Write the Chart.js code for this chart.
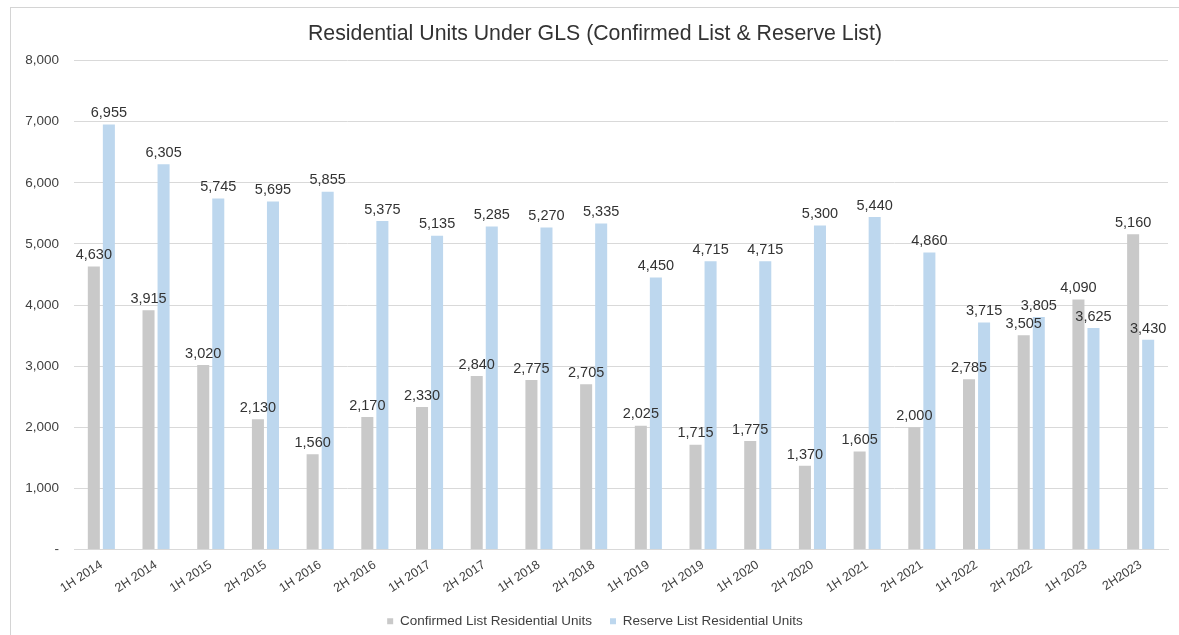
<!DOCTYPE html>
<html>
<head>
<meta charset="utf-8">
<script src="https://cdn.jsdelivr.net/npm/chart.js@4.4.0/dist/chart.umd.min.js"></script>
<style>
  html, body { margin: 0; padding: 0; background: #fff; }
  body { width: 1179px; height: 635px; position: relative; overflow: hidden; }
  #frame {
    position: absolute; left: 10px; top: 7px; width: 1200px; height: 700px;
    border: 1px solid #d4d4d4; box-sizing: border-box;
  }
  #wrap { position: absolute; left: 0; top: 0; width: 1179px; height: 635px; }
</style>
</head>
<body>
<div id="frame"></div>
<div id="wrap"><canvas id="glsChart"></canvas></div>
<script>
  // Half-year periods
  const periods = [
    "1H 2014", "2H 2014", "1H 2015", "2H 2015", "1H 2016", "2H 2016",
    "1H 2017", "2H 2017", "1H 2018", "2H 2018", "1H 2019", "2H 2019",
    "1H 2020", "2H 2020", "1H 2021", "2H 2021", "1H 2022", "2H 2022",
    "1H 2023", "2H2023"
  ];

  // Confirmed List residential units
  const confirmedUnits = [
    4630, 3915, 3020, 2130, 1560, 2170, 2330, 2840, 2775, 2705,
    2025, 1715, 1775, 1370, 1605, 2000, 2785, 3505, 4090, 5160
  ];

  // Reserve List residential units
  const reserveUnits = [
    6955, 6305, 5745, 5695, 5855, 5375, 5135, 5285, 5270, 5335,
    4450, 4715, 4715, 5300, 5440, 4860, 3715, 3805, 3625, 3430
  ];

  const yTicks = [0, 1000, 2000, 3000, 4000, 5000, 6000, 7000, 8000];

  const FONT = "'Liberation Sans', Arial, sans-serif";

  function fmt(v) {
    return v === 0 ? "-" : v.toLocaleString("en-US");
  }

  // value labels above each bar
  const barLabels = {
    id: "barLabels",
    afterDatasetsDraw(chart) {
      const ctx = chart.ctx;
      ctx.save();
      ctx.font = "14.5px " + FONT;
      ctx.fillStyle = "#333333";
      ctx.textAlign = "center";
      ctx.textBaseline = "bottom";
      chart.data.datasets.forEach(function (ds, i) {
        chart.getDatasetMeta(i).data.forEach(function (bar, j) {
          ctx.fillText(fmt(ds.data[j]), bar.x, bar.y - 4);
        });
      });
      ctx.restore();
    }
  };

  const ctx = document.getElementById("glsChart").getContext("2d");

  new Chart(ctx, {
    type: "bar",
    data: {
      labels: periods,
      datasets: [
        {
          label: "Confirmed List Residential Units",
          data: confirmedUnits,
          backgroundColor: "#c9c9c9",
          categoryPercentage: 0.55,
          barPercentage: 0.8
        },
        {
          label: "Reserve List Residential Units",
          data: reserveUnits,
          backgroundColor: "#bdd7ee",
          categoryPercentage: 0.55,
          barPercentage: 0.8
        }
      ]
    },
    options: {
      responsive: true,
      maintainAspectRatio: false,
      animation: false,
      layout: { padding: { left: 22, right: 11, top: 10, bottom: -3 } },
      plugins: {
        title: {
          display: true,
          text: "Residential Units Under GLS (Confirmed List & Reserve List)",
          color: "#333333",
          font: { family: FONT, size: 21.3, weight: "normal" },
          padding: { top: 11, bottom: 14 }
        },
        legend: {
          position: "bottom",
          labels: {
            color: "#404040",
            font: { family: FONT, size: 13.5 },
            boxWidth: 6,
            boxHeight: 6,
            padding: 18
          }
        },
        tooltip: { enabled: false }
      },
      scales: {
        x: {
          grid: { display: false },
          border: { color: "#d9d9d9" },
          afterFit: function (scale) { scale.height = 47; },
          ticks: {
            color: "#404040",
            font: { family: FONT, size: 12.5 },
            minRotation: 33,
            maxRotation: 33,
            padding: 0
          }
        },
        y: {
          min: 0,
          max: 8000,
          afterBuildTicks: function (scale) {
            scale.ticks = yTicks.map(function (v) { return { value: v }; });
          },
          afterFit: function (scale) { scale.width = 52; },
          grid: { color: "#d9d9d9", drawTicks: false },
          border: { display: false },
          ticks: {
            color: "#404040",
            font: { family: FONT, size: 13.5 },
            padding: 15,
            callback: function (v) { return fmt(v); }
          }
        }
      }
    },
    plugins: [barLabels]
  });
</script>
</body>
</html>
